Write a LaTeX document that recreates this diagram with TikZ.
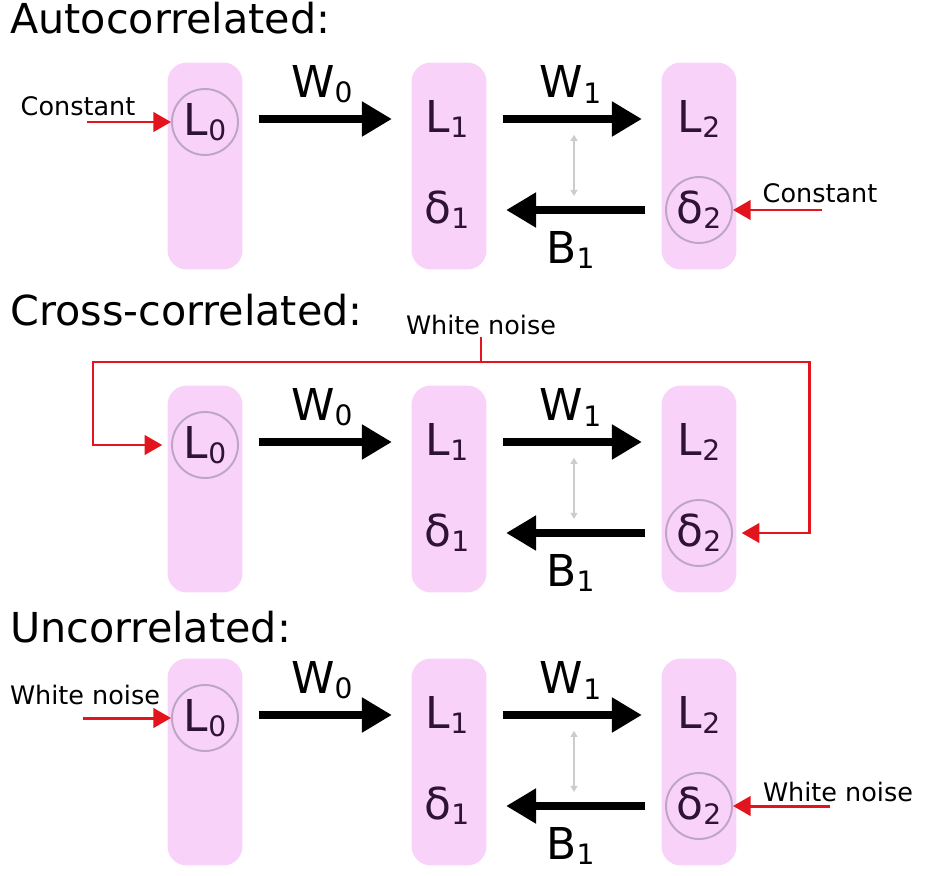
\documentclass[tikz,border=0pt]{standalone}
\usepackage{fontspec}
\setmainfont{DejaVu Sans}
\definecolor{layerpink}{HTML}{F9D2F9}
\definecolor{unitink}{HTML}{2E1238}
\definecolor{ringgray}{HTML}{BCA6C4}
\definecolor{noisered}{HTML}{E3141E}
\usetikzlibrary{arrows.meta, positioning}
\newcommand{\idx}[1]{\raisebox{-0.12em}{\fontsize{16}{16}\selectfont #1}}

\begin{document}
\begin{tikzpicture}[x=0.02cm, y=-0.02cm,
  lyr/.style={fill=layerpink, rounded corners=11pt, minimum width=1.5cm,
              minimum height=4.14cm, inner sep=0pt},
  val/.style={text=unitink, font=\fontsize{25}{25}\selectfont, inner sep=1pt},
  ring/.style={val, circle, draw=ringgray, line width=1.1pt, minimum size=1.32cm},
  lbl/.style={font=\fontsize{25}{25}\selectfont, inner sep=1pt},
  small/.style={font=\fontsize{14.5}{14.5}\selectfont, inner sep=1pt},
  title/.style={font=\fontsize{23.5}{23.5}\selectfont, anchor=base west, inner sep=0pt},
  wgt/.style={line width=4pt, -{Triangle[length=17pt, width=19pt]},
              shorten <=9pt, shorten >=11pt},
  noise/.style={draw=noisered, line width=1.7pt, -{Triangle[length=10pt, width=11pt]}},
  dual/.style={draw=gray!40, line width=0.8pt,
               {Triangle[length=3.5pt, width=4pt]}-{Triangle[length=3.5pt, width=4pt]},
               shorten <=9pt, shorten >=8pt},
]
\useasboundingbox (0,0) rectangle (927,876);

\node[title] (t-a) at (10,33) {Autocorrelated:};
\node[title] (t-b) at (10,325) {Cross-correlated:};
\node[title] (t-c) at (10,642) {Uncorrelated:};

\foreach \p/\dy in {a/0, b/323, c/596}{
  \begin{scope}[shift={(0,\dy)}]
    \node[lyr] (c0-\p) at (205,166) {};
    \node[lyr] (c1-\p) at (449,166) {};
    \node[lyr] (c2-\p) at (699,166) {};
    \node[ring] (L0-\p) at (205,122) {L\idx{0}};
    \node[val] (L1-\p) at (447,119) {L\idx{1}};
    \node[val] (d1-\p) at (447,210) {δ\idx{1}};
    \node[val] (L2-\p) at (699,119) {L\idx{2}};
    \node[ring] (d2-\p) at (699,210) {δ\idx{2}};
    \draw[wgt] (c0-\p.east |- L1-\p) -- node[lbl, above=6pt, xshift=-3pt] {W\idx{0}} (c1-\p.west |- L1-\p);
    \draw[wgt] (c1-\p.east |- L1-\p) -- coordinate (m1-\p)
      node[lbl, above=6pt, xshift=-2pt] {W\idx{1}} (c2-\p.west |- L2-\p);
    \draw[wgt] (c2-\p.west |- d2-\p) -- coordinate (m2-\p)
      node[lbl, below=9pt, xshift=-2pt] {B\idx{1}} (c1-\p.east |- d1-\p);
    \draw[dual] (m1-\p) -- (m2-\p);
  \end{scope}
}

% inputs, autocorrelated
\coordinate (in0-a) at (87,122);
\coordinate (in2-a) at (822,210);
\node[small] (k0-a) at (78,106) {Constant};
\node[small] (k2-a) at (820,193) {Constant};
\draw[noise] (in0-a) -- (L0-a);
\draw[noise] (in2-a) -- (d2-a);

% inputs, cross-correlated
\node[small] (wn-b) at (481,325) {White noise};
\coordinate (top-b) at (481,362);
\coordinate (kl-b) at (93,445);
\coordinate (kr-b) at (809,533);
\draw[noise, -] (wn-b) -- (top-b);
\draw[noise, shorten >=5pt] (top-b) -| (kl-b) -- (L0-b);
\draw[noise, shorten >=5pt] (top-b) -| (kr-b) -- (d2-b);

% inputs, uncorrelated
\coordinate (in0-c) at (83,718);
\coordinate (in2-c) at (830,806);
\node[small] (k0-c) at (85,695) {White noise};
\node[small] (k2-c) at (838,792) {White noise};
\draw[noise] (in0-c) -- (L0-c);
\draw[noise] (in2-c) -- (d2-c);
\end{tikzpicture}
\end{document}
